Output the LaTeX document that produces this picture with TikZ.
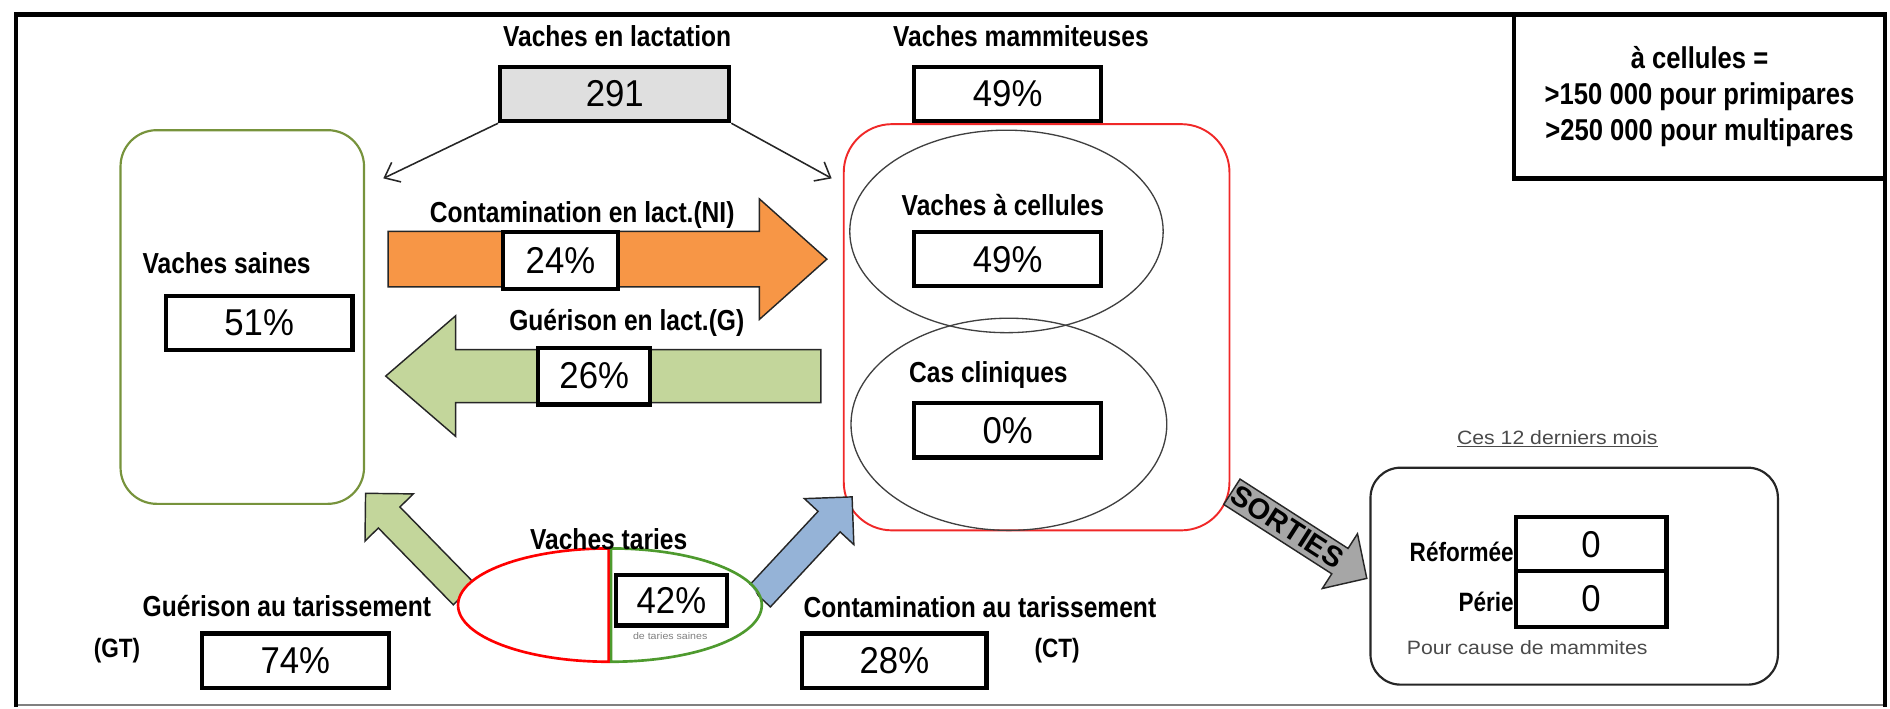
\documentclass[tikz,border=0pt]{standalone}
\usepackage{fontspec}
\usetikzlibrary{arrows.meta}
\newfontfamily\labf[FakeStretch=0.85]{Liberation Sans}
\newfontfamily\numf[FakeStretch=0.93]{Liberation Sans}
\newfontfamily\smallf[FakeStretch=1.1]{Liberation Sans}
\newfontfamily\sortf{Liberation Sans}
\definecolor{olivegreen}{HTML}{77933C}
\definecolor{boxred}{HTML}{F02828}
\definecolor{orangef}{HTML}{F79646}
\definecolor{greenf}{HTML}{C3D69B}
\definecolor{bluef}{HTML}{95B3D7}
\definecolor{grayf}{HTML}{A6A6A6}
\definecolor{tgreen}{HTML}{4E9A2E}
\definecolor{txtgray}{HTML}{4A4A4A}
\definecolor{ellcol}{HTML}{404040}
\newcommand{\blockarr}[7]{%
  \begin{scope}[shift={#2},rotate=#3]
    \draw[#1] (0,#5) -- ({#4-#7},#5) -- ({#4-#7},#6) -- (#4,0) -- ({#4-#7},-#6) -- ({#4-#7},-#5) -- (0,-#5) -- cycle;
  \end{scope}}
\begin{document}
\begin{tikzpicture}[x=1pt,y=-1pt,
  lbl/.style={font=\labf\bfseries\fontsize{24}{27}\selectfont, inner sep=0pt},
  valbox/.style={draw, line width=3.5pt, fill=white, inner sep=0pt, minimum height=45pt, font=\numf\fontsize{31}{31}\selectfont},
  thinarr/.style={draw=black!85, line width=1.3pt, -{Straight Barb[length=11pt,width=18pt]}},
  blk/.style={draw=black!85, line width=1.2pt, line join=miter},
  smalltxt/.style={font=\smallf\fontsize{16}{18}\selectfont, text=txtgray, inner sep=0pt},
]
\useasboundingbox (0,0) rectangle (1568,588);
% frame
\draw[gray, line width=1.5pt] (13,585) -- (1564,585);
\draw[line width=3.5pt, line cap=rect] (13,585) -- (13,12) -- (1564,12) -- (1564,585);
% legend
\draw[line width=3.5pt] (1256,12) rectangle (1564,148);
\node[lbl, font=\labf\bfseries\fontsize{25}{30}\selectfont, align=center] (legend) at (1410,80) {à cellules =\\>150 000 pour primipares\\>250 000 pour multipares};

% containers
\node[draw=olivegreen, line width=1.8pt, rounded corners=30pt, minimum width=202pt, minimum height=310pt, inner sep=0pt] (saines) at (201,263) {};
\node[draw=boxred, line width=1.6pt, rounded corners=40pt, minimum width=320pt, minimum height=337pt, inner sep=0pt] (mamm) at (860,271.5) {};
\draw[ellcol, line width=1.1pt] (835,192) ellipse [x radius=130pt, y radius=84pt];
\draw[ellcol, line width=1.1pt] (837,352) ellipse [x radius=131pt, y radius=88pt];

% top
\node[lbl] (tlact) at (512,30) {Vaches en lactation};
\node[valbox, fill=gray!25, minimum width=190pt] (b291) at (510,78) {291};
\node[lbl] (tmam) at (847,30) {Vaches mammiteuses};
\node[valbox, minimum width=155pt] (bmam) at (836,78) {49\%};
\coordinate (inSaines) at (318,148);
\coordinate (inMamm) at (690,148);
\draw[thinarr] (b291.south west) -- (inSaines);
\draw[thinarr] (b291.south east) -- (inMamm);

% left container content
\node[lbl] (tsaines) at (188,218) {Vaches saines};
\node[valbox, minimum width=155pt] (b51) at (215,268) {51\%};

% right container content
\node[lbl] (tcel) at (832,170) {Vaches à cellules};
\node[valbox, minimum width=155pt] (bcel) at (836,215) {49\%};
\node[lbl] (tclin) at (820,311) {Cas cliniques};
\node[valbox, minimum width=155pt] (bclin) at (836,357) {0\%};

% horizontal block arrows
\blockarr{blk, fill=orangef}{(322,215)}{0}{364}{23}{50}{56}
\node[lbl] (tni) at (483,178) {Contamination en lact.(NI)};
\node[valbox, minimum width=95pt, minimum height=47pt] (b24) at (465,216) {24\%};
\blockarr{blk, fill=greenf}{(681,312)}{180}{361}{22}{50}{58}
\node[lbl] (tg) at (520,268) {Guérison en lact.(G)};
\node[valbox, minimum width=93pt, minimum height=47pt] (b26) at (493,312) {26\%};

% dry-period arrows
\blockarr{blk, fill=greenf}{(385,493)}{134.3}{117}{12.5}{28}{28}
\blockarr{blk, fill=bluef}{(630,495)}{47.1}{113}{12.5}{28}{28}

% dry cows ellipse
\fill[white] (505,502) ellipse [x radius=125pt, y radius=47pt];
\draw[red, line width=2.2pt] (505,455) arc[start angle=90, end angle=270, x radius=125pt, y radius=47pt] -- cycle;
\draw[tgreen, line width=2.2pt] (507,455) arc[start angle=90, end angle=-90, x radius=125pt, y radius=47pt] -- cycle;
\node[lbl] (ttar) at (505,447) {Vaches taries};
\node[valbox, minimum width=92pt, minimum height=42pt] (b42) at (557,498) {42\%};
\node[font=\smallf\fontsize{8}{9}\selectfont, text=gray, inner sep=0pt] (tsmall) at (556,528) {de taries saines};

% bottom labels
\node[lbl] (tgt) at (238,503) {Guérison au tarissement};
\node[lbl, font=\labf\bfseries\fontsize{22}{24}\selectfont] (gt) at (97,540) {(GT)};
\node[valbox, minimum width=155pt] (b74) at (245,548) {74\%};
\node[lbl] (tct) at (813,504) {Contamination au tarissement};
\node[lbl, font=\labf\bfseries\fontsize{22}{24}\selectfont] (ct) at (877,540) {(CT)};
\node[valbox, minimum width=153pt] (b28) at (742,548) {28\%};

% sorties
\blockarr{blk, fill=grayf}{(1022,408)}{-32.7}{133}{12.5}{27}{26.5}
\node[font=\sortf\bfseries\fontsize{24}{24}\selectfont, rotate=-32.7, inner sep=0pt] (tsort) at (1068,437) {SORTIES};
\node[smalltxt] (t12) at (1292,364) {\underline{Ces 12 derniers mois}};
\node[draw=black!85, line width=1.8pt, rounded corners=25pt, minimum width=338pt, minimum height=180pt, inner sep=0pt] (sortbox) at (1306,478) {};
\node[valbox, minimum width=125pt, minimum height=46pt] (bref) at (1320,452) {0};
\node[valbox, minimum width=125pt, minimum height=46pt] (bper) at (1320,497) {0};
\node[lbl, font=\labf\bfseries\fontsize{22}{24}\selectfont, anchor=east] (tref) at (1256,458) {Réformée};
\node[lbl, font=\labf\bfseries\fontsize{22}{24}\selectfont, anchor=east] (tper) at (1256,499) {Périe};
\node[smalltxt] (tcause) at (1267,537) {Pour cause de mammites};
\end{tikzpicture}
\end{document}
